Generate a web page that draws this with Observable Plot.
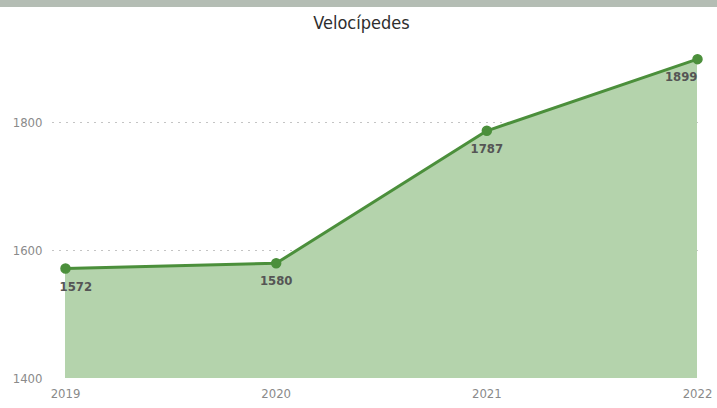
<!DOCTYPE html>
<html>
<head>
<meta charset="utf-8">
<script src="https://cdn.jsdelivr.net/npm/d3@7"></script>
<script src="https://cdn.jsdelivr.net/npm/@observablehq/plot@0.6"></script>
<style>
  html, body { margin: 0; padding: 0; background: #fff; width: 717px; height: 408px; overflow: hidden; }
  #band { height: 7px; background: #b4bdb4; }
  #title { height: 30px; line-height: 31px; text-align: center; font-family: "DejaVu Sans Condensed", "DejaVu Sans", sans-serif; font-stretch: condensed; font-size: 18px; color: #2e2e2e; padding-left: 6px; }
  #chart svg { display: block; }
</style>
</head>
<body>
<div id="band"></div>
<div id="title">Velocípedes</div>
<div id="chart"></div>
<script>
const years = [2019, 2020, 2021, 2022];
const values = [1572, 1580, 1787, 1899];
const yTicks = [1400, 1600, 1800];
const titleText = "Velocípedes";

const data = years.map((y, i) => ({year: y, value: values[i], idx: i}));
const lineColor = "#4b8f3b";
const fillColor = "#b4d3ac";
const font = "'DejaVu Sans Condensed', 'DejaVu Sans', sans-serif";

const chart = Plot.plot({
  width: 717,
  height: 371,
  marginLeft: 52,
  marginRight: 17,
  marginTop: 21,
  marginBottom: 30,
  style: {fontFamily: font, fontSize: "13px", background: "transparent", overflow: "visible"},
  x: {type: "linear", domain: [2019, 2022], insetLeft: 13, insetRight: 3, ticks: years, tickFormat: "d", label: null},
  y: {domain: [1400, 1900], ticks: yTicks, tickFormat: "d", label: null},
  marks: [
    Plot.ruleY(yTicks.slice(1), {stroke: "#c4c4c4", strokeDasharray: "2,5", strokeWidth: 1.2}),
    Plot.areaY(data, {x: "year", y1: 1400, y2: "value", fill: fillColor, curve: "linear"}),
    Plot.lineY(data, {x: "year", y: "value", stroke: lineColor, strokeWidth: 3}),
    Plot.dot(data, {x: "year", y: "value", r: 4.5, fill: lineColor, stroke: lineColor}),
    Plot.text(data.filter(d => d.idx > 0 && d.idx < years.length - 1), {x: "year", y: "value", text: d => String(d.value), dy: 18, fill: "#555", fontWeight: "bold", fontSize: 13}),
    Plot.text(data.filter(d => d.idx === 0), {x: "year", y: "value", text: d => String(d.value), dy: 18, dx: -6, textAnchor: "start", fill: "#555", fontWeight: "bold", fontSize: 13}),
    Plot.text(data.filter(d => d.idx === years.length - 1), {x: "year", y: "value", text: d => String(d.value), dy: 18, dx: 0, textAnchor: "end", fill: "#555", fontWeight: "bold", fontSize: 13}),
    Plot.axisY({ticks: yTicks, tickFormat: "d", tickSize: 0, tickPadding: 10, fill: "#8a8a8a", fontSize: 13}),
    Plot.axisX({ticks: years, tickFormat: "d", tickSize: 0, tickPadding: 10, fill: "#8a8a8a", fontSize: 13})
  ]
});
document.getElementById("chart").appendChild(chart);
</script>
</body>
</html>
